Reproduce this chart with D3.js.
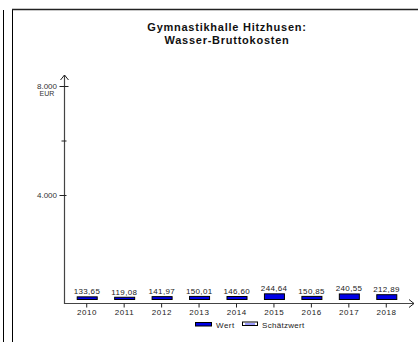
<!DOCTYPE html>
<html>
<head>
<meta charset="utf-8">
<script src="https://cdn.jsdelivr.net/npm/d3@7"></script>
<style>
  html, body { margin: 0; padding: 0; background: #fff; }
  svg { display: block; font-family: "Liberation Sans", Arial, sans-serif; }
</style>
</head>
<body>
<svg id="chart" width="418" height="342"></svg>
<script>
// Water gross costs per year (EUR)
const years = ["2010", "2011", "2012", "2013", "2014", "2015", "2016", "2017", "2018"];
const values = [133.65, 119.08, 141.97, 150.01, 146.60, 244.64, 150.85, 240.55, 212.89];
const yTicks = [4000, 6000, 8000];
const yTickLabels = { 4000: "4.000", 8000: "8.000" };
const titleLines = ["Gymnastikhalle Hitzhusen:", "Wasser-Bruttokosten"];
const legendItems = ["Wert", "Schätzwert"];

const fmt = v => v.toFixed(2).replace(".", ",");

const svg = d3.select("#chart");

// page frame lines
svg.append("line").attr("x1", 3.5).attr("x2", 3.5).attr("y1", 10).attr("y2", 342)
  .attr("stroke", "#000").attr("stroke-width", 1);
svg.append("line").attr("x1", 12.5).attr("x2", 12.5).attr("y1", 9).attr("y2", 342)
  .attr("stroke", "#000").attr("stroke-width", 1);
svg.append("line").attr("x1", 12).attr("x2", 418).attr("y1", 9.5).attr("y2", 9.5)
  .attr("stroke", "#222").attr("stroke-width", 1.5);

// title
svg.append("g").selectAll("text").data(titleLines).join("text")
  .attr("x", 227).attr("y", (d, i) => 30.5 + i * 13)
  .attr("text-anchor", "middle")
  .attr("font-size", 11).attr("font-weight", "bold").attr("fill", "#111")
  .attr("letter-spacing", 0.75)
  .text(d => d);

const x = d3.scaleBand().domain(years).range([68, 405]);
const y = d3.scaleLinear().domain([0, 8000]).range([304, 86]);
const axisColor = "#444";
const x0 = 64.5;

// y axis
svg.append("line").attr("x1", x0).attr("x2", x0).attr("y1", 75).attr("y2", y(0))
  .attr("stroke", axisColor).attr("stroke-width", 1.2);
svg.append("path").attr("d", `M${x0 - 4},80 L${x0},75 L${x0 + 4},80`)
  .attr("fill", "none").attr("stroke", "#222").attr("stroke-width", 1);
svg.append("g").selectAll("line").data(yTicks).join("line")
  .attr("x1", d => d === 6000 ? x0 - 3 : x0 - 5).attr("x2", d => d === 8000 ? x0 + 4 : x0 + 2)
  .attr("y1", d => y(d) + 0.5).attr("y2", d => y(d) + 0.5)
  .attr("stroke", "#222").attr("stroke-width", 1);
svg.append("g").selectAll("text").data(yTicks.filter(d => yTickLabels[d])).join("text")
  .attr("x", 57).attr("y", d => y(d) + 3)
  .attr("text-anchor", "end").attr("font-size", 8).attr("fill", "#333")
  .text(d => yTickLabels[d]);
svg.append("text").attr("x", 47).attr("y", y(8000) + 10)
  .attr("text-anchor", "middle").attr("font-size", 7).attr("fill", "#333")
  .text("EUR");

// x axis
const yAxis0 = y(0) - 0.5;
svg.append("line").attr("x1", x0).attr("x2", 414).attr("y1", yAxis0).attr("y2", yAxis0)
  .attr("stroke", axisColor).attr("stroke-width", 1.2);
svg.append("path").attr("d", `M409,${yAxis0 - 4} L414,${yAxis0} L409,${yAxis0 + 4}`)
  .attr("fill", "none").attr("stroke", "#222").attr("stroke-width", 1);
svg.append("g").selectAll("line").data(years).join("line")
  .attr("x1", d => x(d) + x.bandwidth() / 2).attr("x2", d => x(d) + x.bandwidth() / 2)
  .attr("y1", yAxis0).attr("y2", yAxis0 + 4)
  .attr("stroke", "#222").attr("stroke-width", 1);
svg.append("g").selectAll("text").data(years).join("text")
  .attr("x", d => x(d) + x.bandwidth() / 2 + 0.3).attr("y", 314.5)
  .attr("text-anchor", "middle").attr("font-size", 8).attr("fill", "#222")
  .attr("letter-spacing", 0.6)
  .text(d => d);

// bars, lifted slightly above the axis line
const lift = 4;
const barW = 20;
const data = years.map((yr, i) => ({ yr, v: values[i] }));
svg.append("g").selectAll("rect").data(data).join("rect")
  .attr("x", d => x(d.yr) + x.bandwidth() / 2 - barW / 2 + 0.5)
  .attr("y", d => y(d.v) - lift + 0.5)
  .attr("width", barW)
  .attr("height", d => Math.max(1, y(0) - y(d.v) - 1))
  .attr("fill", "#0000e6").attr("stroke", "#000").attr("stroke-width", 1);

svg.append("g").selectAll("text").data(data).join("text")
  .attr("x", d => x(d.yr) + x.bandwidth() / 2 + 0.2)
  .attr("y", d => y(d.v) - lift - 2)
  .attr("text-anchor", "middle").attr("font-size", 8).attr("fill", "#222")
  .attr("letter-spacing", 0.35)
  .text(d => fmt(d.v));

// legend
const lg = svg.append("g");
lg.append("rect").attr("x", 195.5).attr("y", 322.5).attr("width", 16).attr("height", 3.5)
  .attr("fill", "#0000e6").attr("stroke", "#000").attr("stroke-width", 1);
lg.append("text").attr("x", 216).attr("y", 327.5).attr("font-size", 8).attr("fill", "#222")
  .attr("letter-spacing", 0.5).text(legendItems[0]);
lg.append("rect").attr("x", 242.5).attr("y", 322).attr("width", 15).attr("height", 3.5)
  .attr("fill", "#fff").attr("stroke", "#000").attr("stroke-width", 1);
lg.append("line").attr("x1", 245).attr("x2", 255).attr("y1", 324).attr("y2", 324)
  .attr("stroke", "#5a5aff").attr("stroke-width", 1.2);
lg.append("text").attr("x", 262).attr("y", 327.5).attr("font-size", 8).attr("fill", "#222")
  .attr("letter-spacing", 0.3).text(legendItems[1]);
</script>
</body>
</html>
